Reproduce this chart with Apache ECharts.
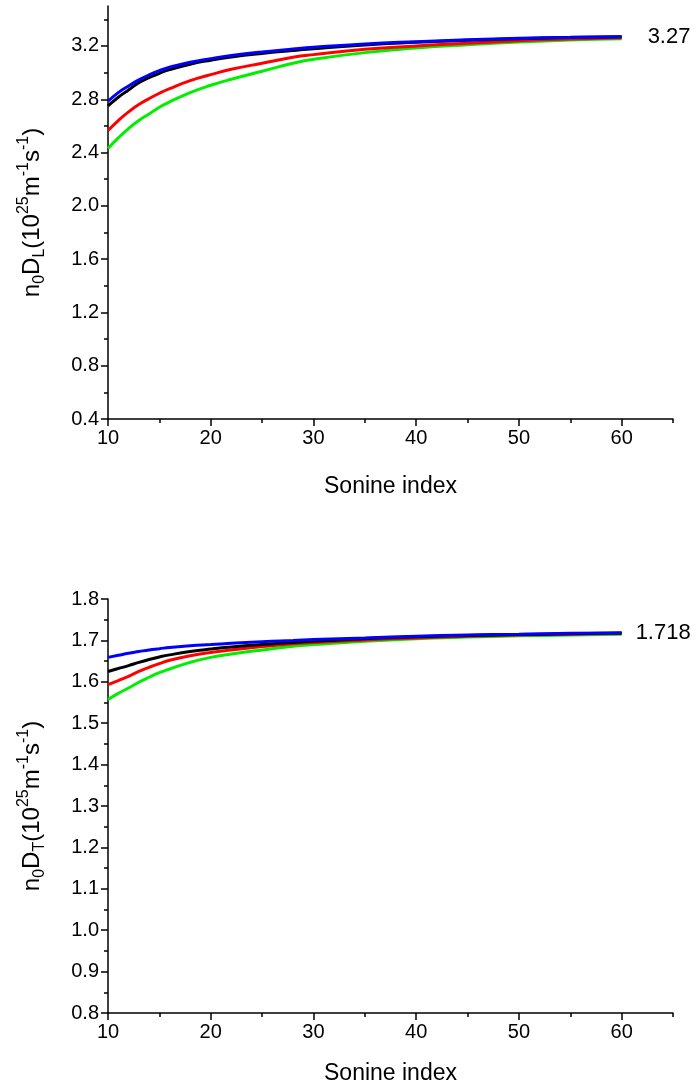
<!DOCTYPE html>
<html>
<head>
<meta charset="utf-8">
<script src="https://cdn.jsdelivr.net/npm/echarts@6/dist/echarts.min.js"></script>
<style>
  html, body { margin: 0; padding: 0; background: #fff; }
  #chart { width: 699px; height: 1086px; }
</style>
</head>
<body>
<div id="chart"></div>
<script>
// Sonine index sampled along the curves
const sonineIndex = [10, 11, 12, 13, 14, 15, 16, 18, 20, 22, 25, 28, 30, 35, 40, 45, 50, 55, 60];

// Longitudinal coefficient n0·D_L (10^25 m^-1 s^-1)
const dlGreen = [2.43, 2.51, 2.58, 2.64, 2.69, 2.74, 2.78, 2.85, 2.905, 2.95, 3.01, 3.07, 3.10, 3.15, 3.185, 3.21, 3.23, 3.245, 3.255];
const dlRed   = [2.565, 2.64, 2.705, 2.76, 2.805, 2.845, 2.88, 2.94, 2.985, 3.025, 3.07, 3.115, 3.135, 3.175, 3.20, 3.22, 3.24, 3.252, 3.262];
const dlBlack = [2.75, 2.815, 2.87, 2.925, 2.962, 2.995, 3.022, 3.063, 3.093, 3.117, 3.144, 3.166, 3.18, 3.208, 3.227, 3.242, 3.254, 3.264, 3.27];
const dlBlue  = [2.785, 2.85, 2.90, 2.945, 2.983, 3.015, 3.04, 3.078, 3.105, 3.128, 3.155, 3.177, 3.19, 3.215, 3.232, 3.246, 3.257, 3.265, 3.27];

// Transverse coefficient n0·D_T (10^25 m^-1 s^-1)
const dtGreen = [1.557, 1.572, 1.585, 1.599, 1.611, 1.622, 1.631, 1.647, 1.659, 1.667, 1.677, 1.686, 1.690, 1.698, 1.704, 1.708, 1.711, 1.713, 1.715];
const dtRed   = [1.593, 1.603, 1.613, 1.625, 1.635, 1.644, 1.652, 1.663, 1.671, 1.677, 1.685, 1.692, 1.695, 1.701, 1.706, 1.710, 1.713, 1.715, 1.717];
const dtBlack = [1.625, 1.632, 1.639, 1.647, 1.654, 1.660, 1.665, 1.673, 1.679, 1.684, 1.690, 1.695, 1.698, 1.704, 1.709, 1.712, 1.714, 1.716, 1.718];
const dtBlue  = [1.659, 1.664, 1.669, 1.673, 1.677, 1.680, 1.683, 1.687, 1.690, 1.693, 1.697, 1.700, 1.702, 1.706, 1.710, 1.713, 1.715, 1.717, 1.718];

// Tick positions and labels
const xMajorTicks = [10, 20, 30, 40, 50, 60];
const xMinorTicks = [15, 25, 35, 45, 55, 65];
const dlMajorTicks = [0.4, 0.8, 1.2, 1.6, 2.0, 2.4, 2.8, 3.2];
const dlMinorTicks = [0.6, 1.0, 1.4, 1.8, 2.2, 2.6, 3.0, 3.4];
const dtMajorTicks = [0.8, 0.9, 1.0, 1.1, 1.2, 1.3, 1.4, 1.5, 1.6, 1.7, 1.8];
const dtMinorTicks = [0.85, 0.95, 1.05, 1.15, 1.25, 1.35, 1.45, 1.55, 1.65, 1.75];

const xTitle = 'Sonine index';
const dlTitle = '{n|n}{sub|0}{n|D}{sub|L}{n|(10}{sup|25}{n|m}{sup|-1}{n|s}{sup|-1}{n|)}';
const dtTitle = '{n|n}{sub|0}{n|D}{sub|T}{n|(10}{sup|25}{n|m}{sup|-1}{n|s}{sup|-1}{n|)}';

const FONT = 'Liberation Sans, Arial, Helvetica, sans-serif';
const INK = '#000';

const richTitle = {
  n:   { fontSize: 24, fontFamily: FONT, color: INK, lineHeight: 32 },
  sub: { fontSize: 16, fontFamily: FONT, color: INK, verticalAlign: 'bottom', lineHeight: 16 },
  sup: { fontSize: 16, fontFamily: FONT, color: INK, verticalAlign: 'top', lineHeight: 16 }
};

function xMain(gridIndex, nameGap) {
  return {
    type: 'value', gridIndex, position: 'bottom', min: 10, max: 65, interval: 5,
    name: xTitle, nameLocation: 'middle', nameGap,
    nameTextStyle: { fontSize: 23, fontFamily: FONT, color: INK },
    axisLine: { show: true, onZero: false, lineStyle: { color: INK, width: 1.5 } },
    axisTick: { show: true, customValues: xMajorTicks, length: 7, lineStyle: { color: INK, width: 1.5 } },
    axisLabel: { show: true, customValues: xMajorTicks, fontSize: 20, fontFamily: FONT, color: INK, margin: 9 },
    splitLine: { show: false }
  };
}
function xMinor(gridIndex) {
  return {
    type: 'value', gridIndex, position: 'bottom', offset: 0, min: 10, max: 65, interval: 5,
    axisLine: { show: false, onZero: false },
    axisTick: { show: true, customValues: xMinorTicks, length: 4, lineStyle: { color: INK, width: 1.5 } },
    axisLabel: { show: false },
    splitLine: { show: false }
  };
}
function yMain(gridIndex, min, max, interval, ticks, digits, title) {
  return {
    type: 'value', gridIndex, position: 'left', min, max, interval,
    name: title, nameLocation: 'middle', nameRotate: 90, nameGap: 60,
    nameTextStyle: { rich: richTitle },
    axisLine: { show: true, onZero: false, lineStyle: { color: INK, width: 1.5 } },
    axisTick: { show: true, customValues: ticks, length: 7, lineStyle: { color: INK, width: 1.5 } },
    axisLabel: {
      show: true, customValues: ticks, fontSize: 20, fontFamily: FONT, color: INK, margin: 9,
      formatter: v => v.toFixed(digits)
    },
    splitLine: { show: false }
  };
}
function yMinor(gridIndex, min, max, interval, ticks) {
  return {
    type: 'value', gridIndex, position: 'left', offset: 0, min, max, interval,
    axisLine: { show: false, onZero: false },
    axisTick: { show: true, customValues: ticks, length: 4, lineStyle: { color: INK, width: 1.5 } },
    axisLabel: { show: false },
    splitLine: { show: false }
  };
}

function pairs(ys) { return sonineIndex.map((x, i) => [x, ys[i]]); }

function curve(ys, color, axisIdx, endLabel) {
  const s = {
    type: 'line', xAxisIndex: axisIdx, yAxisIndex: axisIdx,
    data: pairs(ys), showSymbol: false, symbol: 'none',
    smooth: 0.5,
    lineStyle: { color, width: 3 }, itemStyle: { color },
    emphasis: { disabled: true }
  };
  if (endLabel) {
    s.endLabel = {
      show: true, distance: endLabel.distance,
      formatter: p => String(p.value[1]),
      fontSize: 22, fontFamily: FONT, color: INK
    };
  }
  return s;
}

const chart = echarts.init(document.getElementById('chart'), null, { renderer: 'canvas' });
chart.setOption({
  animation: false,
  backgroundColor: '#fff',
  grid: [
    { left: 108, right: 26, top: 6, height: 413 },
    { left: 108, right: 26, top: 599, height: 415 }
  ],
  xAxis: [xMain(0, 56), xMinor(0), xMain(1, 49), xMinor(1)],
  yAxis: [
    yMain(0, 0.4, 3.5, 0.4, dlMajorTicks, 1, dlTitle),
    yMinor(0, 0.4, 3.5, 0.4, dlMinorTicks),
    yMain(1, 0.8, 1.8, 0.1, dtMajorTicks, 1, dtTitle),
    yMinor(1, 0.8, 1.8, 0.1, dtMinorTicks)
  ],
  series: [
    curve(dlGreen, '#00ee00', 0),
    curve(dlRed, '#ff0000', 0),
    curve(dlBlack, '#000000', 0),
    curve(dlBlue, '#0000ff', 0, { distance: 26 }),
    curve(dtGreen, '#00ee00', 2),
    curve(dtRed, '#ff0000', 2),
    curve(dtBlack, '#000000', 2),
    curve(dtBlue, '#0000ff', 2, { distance: 14 })
  ]
});
</script>
</body>
</html>
